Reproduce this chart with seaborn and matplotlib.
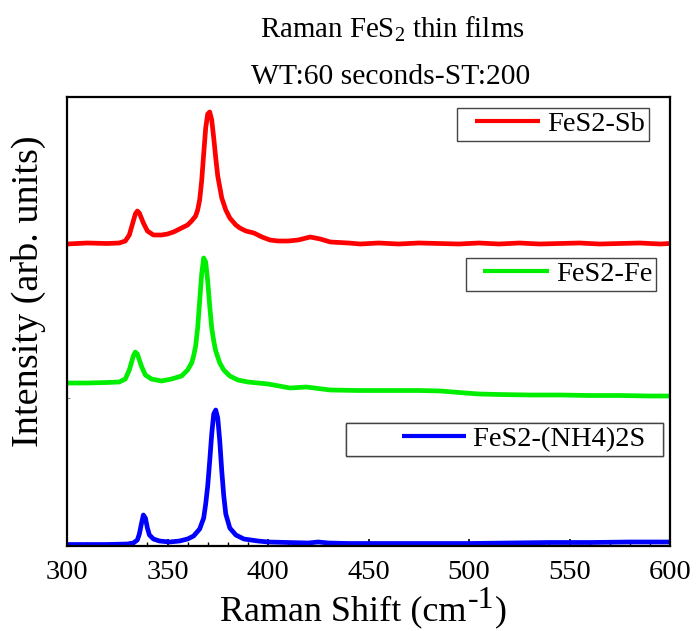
import numpy as np
import pandas as pd
import matplotlib
matplotlib.use("Agg")
import matplotlib.pyplot as plt
import seaborn as sns
from matplotlib.lines import Line2D
from matplotlib.legend_handler import HandlerBase
from matplotlib.ticker import MultipleLocator, FixedLocator

# ---------------- data ----------------
labels = ["FeS2-Sb", "FeS2-Fe", "FeS2-(NH4)2S"]
colors = ["#ff0000", "#00ee00", "#0000ff"]

x_sb = [300, 310, 320, 326, 329, 331, 333, 334, 335, 336, 338, 340, 343, 347, 350,
        353, 357, 360, 362, 364, 365, 366, 367, 368, 369, 370, 371, 372, 373, 374,
        375, 377, 379, 381, 384, 386, 389, 393, 397, 401, 405, 410, 415, 421, 426,
        431, 440, 446, 455, 465, 475, 485, 495, 505, 515, 525, 535, 545, 555, 565,
        575, 585, 595, 600]
y_sb = [302, 303, 302.5, 303, 305, 311, 325, 332, 335, 333, 323, 315, 311, 311, 312,
        314, 318, 321, 325, 330, 336, 346, 365, 392, 418, 432, 434, 426, 408, 388,
        370, 348, 336, 328, 321, 318, 315, 313, 309, 306, 305, 305, 306, 309, 307,
        304, 303, 302, 303, 302, 303, 302.5, 302, 303, 302, 303, 302, 302.5, 303, 302,
        302.5, 303, 302, 302.5]

x_fe = [300, 310, 320, 326, 329, 331, 333, 334, 335, 337, 339, 342, 347, 352, 357,
        360, 362, 363, 364, 365, 366, 367, 368, 369, 370, 371, 372, 373, 374, 376,
        378, 381, 385, 390, 400, 411, 419, 425, 431, 445, 460, 475, 486, 495, 505,
        515, 530, 545, 560, 575, 590, 600]
y_fe = [163, 163, 163.5, 164, 167, 176, 190, 194, 192, 180, 171, 167, 165, 167, 170,
        176, 183, 190, 200, 218, 245, 272, 288, 284, 265, 240, 218, 205, 195, 183,
        176, 170, 166, 164, 162, 158, 159, 157.5, 156, 155.5, 155.5, 155.5, 155, 153.5, 152,
        151.5, 151, 151, 150.5, 150.5, 150, 150]

x_nh = [300, 320, 330, 333, 335, 336, 337, 338, 339, 340, 341, 343, 346, 351, 356,
        360, 363, 366, 368, 369, 370, 371, 372, 373, 374, 375, 376, 377, 378, 379,
        381, 384, 388, 395, 400, 410, 420, 425, 430, 440, 460, 480, 500, 520, 540,
        560, 580, 600]
y_nh = [1.5, 1.5, 2, 3, 6, 12, 22, 31, 28, 18, 11, 7, 5, 4, 5,
        7, 10, 17, 28, 42, 60, 85, 112, 132, 136, 128, 105, 75, 50, 32,
        18, 11, 7, 5, 4, 3.5, 3, 4, 3, 2.5, 2.5, 2.5, 2.5, 3, 3.5,
        3.5, 4, 4]

xticks = [300, 350, 400, 450, 500, 550, 600]
title_line1 = "Raman FeS$_2$ thin films"
title_line2 = "WT:60 seconds-ST:200"
xlabel_main = "Raman Shift (cm"
xlabel_sup = "-1"
xlabel_close = ")"
ylabel = "Intensity (arb. units)"

# ---------------- style ----------------
sns.set_style("ticks")
plt.rcParams["font.family"] = ["Liberation Serif", "DejaVu Serif"]
plt.rcParams["mathtext.fontset"] = "custom"
plt.rcParams["mathtext.rm"] = "Liberation Serif"
plt.rcParams["mathtext.it"] = "Liberation Serif:italic"
plt.rcParams["mathtext.bf"] = "Liberation Serif:bold"
for k in ["text.color", "axes.labelcolor", "xtick.color", "ytick.color",
          "axes.edgecolor"]:
    plt.rcParams[k] = "black"


class RightLine(HandlerBase):
    """Legend handle whose line fills only the right part of the handle box."""
    def __init__(self, frac):
        super().__init__()
        self.frac = frac

    def create_artists(self, legend, orig_handle, xdescent, ydescent, width,
                       height, fontsize, trans):
        y = height / 2 - ydescent
        x1 = width - xdescent
        x0 = -xdescent + width * (1 - self.frac)
        ln = Line2D([x0, x1], [y, y], color=orig_handle.get_color(),
                    linewidth=3.0, solid_capstyle="butt")
        ln.set_transform(trans)
        return [ln]


fig = plt.figure(figsize=(6.96, 6.31), dpi=100)
ax = fig.add_axes([67 / 696, 1 - 546 / 631, 603 / 696, 449 / 631])

series = [(x_sb, y_sb), (x_fe, y_fe), (x_nh, y_nh)]
handles = []
for (xs, ys), lab, col in zip(series, labels, colors):
    df = pd.DataFrame({"shift": xs, "intensity": ys})
    sns.lineplot(data=df, x="shift", y="intensity", ax=ax, color=col,
                 linewidth=3.4, estimator=None, sort=False, legend=False)
    handles.append(ax.lines[-1])

ax.set_xlim(300, 600)
ax.set_ylim(0, 449)
ax.xaxis.set_major_locator(FixedLocator(xticks))
ax.xaxis.set_minor_locator(MultipleLocator(10))
ax.yaxis.set_major_locator(FixedLocator([148]))
ax.set_yticklabels([])
ax.tick_params(axis="x", which="major", direction="in", length=5, width=1.2,
               labelsize=20.5, pad=10, colors="black")
ax.tick_params(axis="x", which="minor", direction="in", length=3, width=1.0)
ax.tick_params(axis="y", which="major", direction="in", length=2.5, width=0.8,
               color="#888888")
for sp in ax.spines.values():
    sp.set_linewidth(1.6)
    sp.set_color("black")

# x label: main part as the axis label, superscript and bracket appended
ax.set_xlabel(xlabel_main, fontsize=26)
ax.xaxis.label.set_va("baseline")
ax.xaxis.label.set_ha("left")
ax.xaxis.set_label_coords((220 - 67) / 603, (546 - 620) / 449)

ax.set_ylabel(ylabel, fontsize=27.5)
ax.yaxis.label.set_va("center")
ax.yaxis.set_label_coords((28 - 67) / 603, (546 - 291) / 449)

# legends, one per spectrum
leg_specs = [
    (0, labels[0], (0.965, 0.9755), 2.8, 0.82),
    (1, labels[1], (0.977, 0.6414), 2.8, 0.83),
    (2, labels[2] + "  ", (0.988, 0.274), 4.1, 0.55),
]
for idx, lab, anchor, hl, frac in leg_specs:
    leg = ax.legend([handles[idx]], [lab], loc="upper right",
                    bbox_to_anchor=anchor, borderaxespad=0, fontsize=20.5,
                    handlelength=hl, handletextpad=0.25, borderpad=0.12,
                    frameon=True, fancybox=False, framealpha=1,
                    edgecolor="#444444",
                    handler_map={handles[idx]: RightLine(frac)})
    leg.get_frame().set_linewidth(1.0)
    ax.add_artist(leg)

fig.text(392 / 696, 1 - 38 / 631, title_line1, fontsize=20.8, ha="center",
         va="baseline")
fig.text(391 / 696, 1 - 84 / 631, title_line2, fontsize=21.3, ha="center",
         va="baseline")

# place superscript and closing bracket after the measured main label
fig.canvas.draw()
r = fig.canvas.get_renderer()
bb = ax.xaxis.label.get_window_extent(renderer=r)
W, H = fig.bbox.width, fig.bbox.height
base_y = 1 - 620 / 631
t_sup = fig.text((bb.x1 + 1) / W, base_y + 12 / H, xlabel_sup, fontsize=23,
                 ha="left", va="baseline")
fig.canvas.draw()
bb2 = t_sup.get_window_extent(renderer=r)
fig.text((bb2.x1 + 1) / W, base_y, xlabel_close, fontsize=26, ha="left",
         va="baseline")

fig.savefig("out.png", dpi=100)
